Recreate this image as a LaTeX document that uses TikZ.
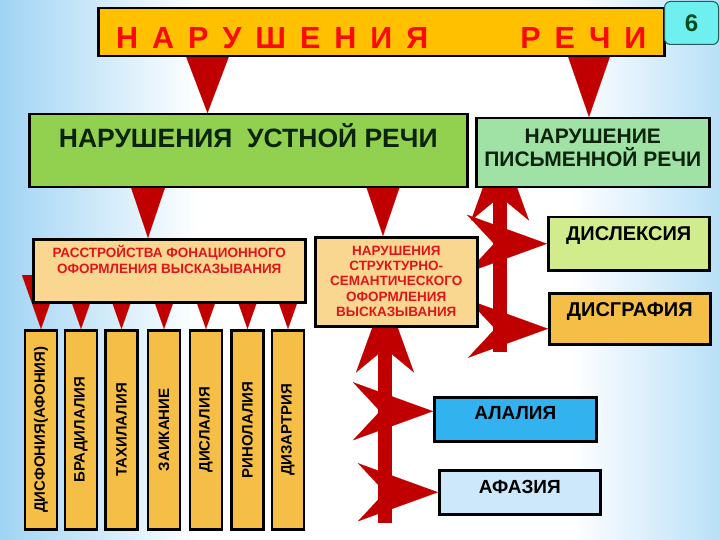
\documentclass[tikz,border=0pt]{standalone}
\usepackage{fontspec}
\setmainfont{Liberation Sans}
\usepackage{graphicx}
\usetikzlibrary{positioning,arrows.meta,calc}

\definecolor{arrred}{RGB}{192,0,0}
\definecolor{titleamber}{RGB}{255,192,0}
\definecolor{titlered}{RGB}{250,10,10}
\definecolor{badgecyan}{RGB}{110,240,240}
\definecolor{badgeedge}{RGB}{40,90,90}
\definecolor{badgegreen}{RGB}{10,75,30}
\definecolor{oralgreen}{RGB}{146,208,80}
\definecolor{darkink}{RGB}{12,36,12}
\definecolor{mint}{RGB}{160,226,165}
\definecolor{sand}{RGB}{250,215,145}
\definecolor{phonred}{RGB}{222,22,28}
\definecolor{lime}{RGB}{208,236,140}
\definecolor{ochre}{RGB}{245,190,70}
\definecolor{azure}{RGB}{51,178,240}
\definecolor{pale}{RGB}{204,232,250}
\definecolor{skyL}{RGB}{160,212,244}
\definecolor{skyR}{RGB}{185,224,248}

\pgfdeclarelayer{back}
\pgfdeclarelayer{links}
\pgfsetlayers{back,links,main}

\begin{document}
\begin{tikzpicture}[
  x=1pt, y=-1pt,
  font=\bfseries,
  box/.style={draw, line width=2.5pt, inner sep=0pt, align=center, fill=white},
  vbox/.style={box, fill=ochre, minimum width=32pt, minimum height=199pt,
               font=\fontsize{15}{18}\bfseries},
  wedge/.style 2 args={draw=arrred, fill=arrred, line width=0.1pt,
                       -{Triangle[length=#1 0, width=#2 0]}},
  dart/.style={draw=arrred, line width=0.1pt,
               -{Stealth[length=80pt 0, width=58pt 0, inset=27pt 0]}},
  bar/.style={draw=arrred, line width=14pt,
              -{Stealth[length=80pt 0, width=58pt 0, inset=24pt 0, line width=0.1pt]}}
]
\useasboundingbox (0,0) rectangle (720,540);
% background
\begin{pgfonlayer}{back}
  \shade[left color=skyL, right color=white] (0,0) rectangle (200,540);
  \fill[white] (200,0) rectangle (570,540);
  \shade[left color=white, right color=skyR] (570,0) rectangle (720,540);
\end{pgfonlayer}

% top
\node[box, fill=titleamber, text=titlered, minimum width=566pt, text height=40pt, text depth=8pt,
      font=\fontsize{30.5}{36}\bfseries, anchor=north west] (title) at (97,7)
  {\spaceskip=14pt Н А Р У Ш Е Н И Я\hspace{92pt}Р Е Ч И};
\node[draw=badgeedge, line width=1pt, rounded corners=6pt, fill=badgecyan, text=badgegreen,
      minimum width=54pt, minimum height=43pt, inner sep=0pt, font=\fontsize{24}{28}\bfseries,
      anchor=north west] (num) at (664,1) {6};

% second row
\node[box, fill=oralgreen, text=darkink, minimum width=438pt, text height=33pt, text depth=40pt,
      font=\fontsize{26.5}{30}\bfseries, anchor=north west] (oral) at (28,113)
  {НАРУШЕНИЯ\ \ УСТНОЙ РЕЧИ};
\node[box, fill=mint, text=darkink, minimum width=233pt, text height=48pt, text depth=21pt,
      font=\fontsize{21}{23}\bfseries, anchor=north west] (write) at (475,117)
  {НАРУШЕНИЕ\\ПИСЬМЕННОЙ РЕЧИ};

% third row
\node[box, fill=sand, text=phonred, minimum width=272pt, text height=34pt, text depth=29pt,
      font=\fontsize{13.5}{16}\bfseries, anchor=north west] (phon) at (32,238)
  {РАССТРОЙСТВА ФОНАЦИОННОГО\\ОФОРМЛЕНИЯ ВЫСКАЗЫВАНИЯ};
\node[box, fill=sand, text=phonred, minimum width=162pt, text height=79pt, text depth=10pt,
      font=\fontsize{13.5}{15.25}\bfseries, anchor=north west] (struct) at (314,236)
  {НАРУШЕНИЯ\\СТРУКТУРНО-\\СЕМАНТИЧЕСКОГО\\ОФОРМЛЕНИЯ\\ВЫСКАЗЫВАНИЯ};

% right column
\node[box, fill=lime, minimum width=161pt, text height=23pt, text depth=30pt,
      font=\fontsize{20}{24}\bfseries, anchor=north west] (dlex) at (547,216) {ДИСЛЕКСИЯ};
\node[box, fill=ochre, minimum width=161pt, text height=23pt, text depth=28pt,
      font=\fontsize{20}{24}\bfseries, anchor=north west] (dgraf) at (548,292) {ДИСГРАФИЯ};
\node[box, fill=azure, minimum width=162pt, text height=22pt, text depth=22pt,
      font=\fontsize{19}{23}\bfseries, anchor=north west] (alal) at (433,396) {АЛАЛИЯ};
\node[box, fill=pale, minimum width=161pt, text height=23pt, text depth=21pt,
      font=\fontsize{19}{23}\bfseries, anchor=north west] (afaz) at (438,469) {АФАЗИЯ};

% vertical boxes
\foreach \n/\x/\t in {1/41/ДИСФОНИЯ(АФОНИЯ), 2/81/БРАДИЛАЛИЯ, 3/121.5/ТАХИЛАЛИЯ,
                      4/164/ЗАИКАНИЕ, 5/206/ДИСЛАЛИЯ, 6/247.5/РИНОЛАЛИЯ, 7/288/ДИЗАРТРИЯ}
  \node[vbox, anchor=north] (v\n) at (\x,329) {\rotatebox{90}{\t}};

% connectors
\coordinate (ml) at (207.5,0);
\coordinate (mr) at (589,0);
\coordinate (sl) at (148,0);
\coordinate (sr) at (383,0);
\coordinate (lbot) at (385,523);
\coordinate (rbot) at (500,352);
\begin{pgfonlayer}{links}
  \draw[wedge={58pt}{44pt}] (title.south -| ml) -- (oral.north -| ml);
  \draw[wedge={62pt}{43pt}] (title.south -| mr) -- (write.north -| mr);
  \draw[wedge={52pt}{35pt}] (oral.south -| sl) -- (phon.north -| sl);
  \draw[wedge={50pt}{34pt}] (oral.south -| sr) -- (struct.north -| sr);
  \foreach \n in {1,...,7}
    \draw[wedge={54pt}{38pt}] ($(phon.south -| v\n)+(0,-26)$) -- (v\n.north);
  % oral: structure
  \draw[bar, shorten >=-35pt] (lbot) -- (struct.south -| lbot);
  \draw[dart] ($(alal.west -| lbot)+(0,-8)$) -- ($(alal.west)+(0,-8)$);
  \draw[dart] (afaz.west -| lbot) -- (afaz.west);
  % written
  \draw[bar, shorten >=-48pt] (rbot) -- (write.south -| rbot);
  \draw[dart] (dlex.west -| rbot) -- (dlex.west);
  \draw[dart] ($(dgraf.west -| rbot)+(0,10)$) -- ($(dgraf.west)+(0,10)$);
\end{pgfonlayer}
\end{tikzpicture}
\end{document}
